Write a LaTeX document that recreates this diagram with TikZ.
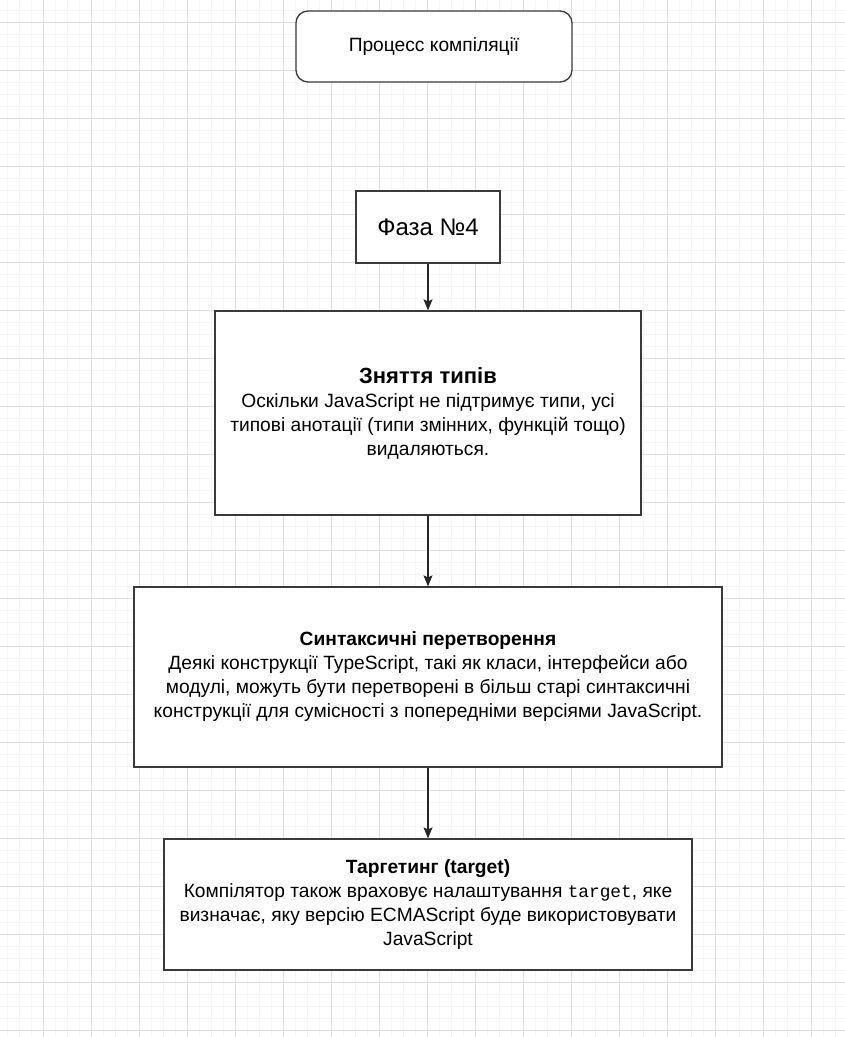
\documentclass[tikz,border=0pt]{standalone}
\usepackage{fontspec}
\setmainfont{Liberation Sans}
\setmonofont{Liberation Mono}
\usetikzlibrary{arrows.meta}

\definecolor{gridminor}{HTML}{F5F5F5}
\definecolor{gridmajor}{HTML}{E0E0E0}
\definecolor{boxline}{HTML}{3A3A3A}

\newcommand{\bodyfont}{\fontsize{19.2}{24}\selectfont}
\newcommand{\codeword}[1]{{\fontsize{17.8}{24}\selectfont\ttfamily #1}}

\tikzset{
  phasebox/.style = {draw = boxline, line width = 1.3pt, fill = white,
                     align = center, inner sep = 0pt, font = \bodyfont},
  flow/.style = {draw = black!85, line width = 1.2pt,
                 -{Stealth[length = 11pt, width = 9pt, inset = 2pt]}},
}

\begin{document}
\begin{tikzpicture}[x = 1pt, y = -1pt]
						\useasboundingbox (0,0) rectangle (845,1037);
						\fill [white] (0,0) rectangle (845,1037);
						\begin{scope}[line width = 0.7pt]
							\foreach \gx in {7,19,...,845} \draw [gridminor] (\gx,0) -- (\gx,1037);
							\foreach \gy in {10,22,...,1037} \draw [gridminor] (0,\gy) -- (845,\gy);
							\foreach \gx in {43,91,...,845} \draw [gridmajor] (\gx,0) -- (\gx,1037);
							\foreach \gy in {22,70,...,1037} \draw [gridmajor] (0,\gy) -- (845,\gy);
						\end{scope}

						\node [phasebox, rounded corners = 12pt, minimum width = 276pt, minimum height = 71pt]
							(process) at (434,46.5) {Процесс компіляції};

						\node [phasebox, minimum width = 144pt, minimum height = 72pt, font = \fontsize{24}{28}\selectfont]
							(phase) at (428,227) {Фаза №4};

						\node [phasebox, minimum width = 426pt, minimum height = 204pt]
							(erase) at (428,413) {{\fontsize{22}{24}\selectfont\bfseries Зняття типів}\\
							Оскільки JavaScript не підтримує типи, усі\\
							типові анотації (типи змінних, функцій тощо)\\
							видаляються.};

						\node [phasebox, minimum width = 588pt, minimum height = 180pt]
							(syntax) at (428,677) {{\bfseries Синтаксичні перетворення}\\
							Деякі конструкції TypeScript, такі як класи, інтерфейси або\\
							модулі, можуть бути перетворені в більш старі синтаксичні\\
							конструкції для сумісності з попередніми версіями JavaScript.};

						\node [phasebox, minimum width = 528pt, minimum height = 131pt]
							(target) at (428,904.5) {{\bfseries Таргетинг (target)}\\
							Компілятор також враховує налаштування \codeword{target}, яке\\
							визначає, яку версію ECMAScript буде використовувати\\
							JavaScript};

						\begin{scope}[flow]
							\draw (phase) -- (erase);
							\draw (erase) -- (syntax);
							\draw (syntax) -- (target);
						\end{scope}
					\end{tikzpicture}
\end{document}
